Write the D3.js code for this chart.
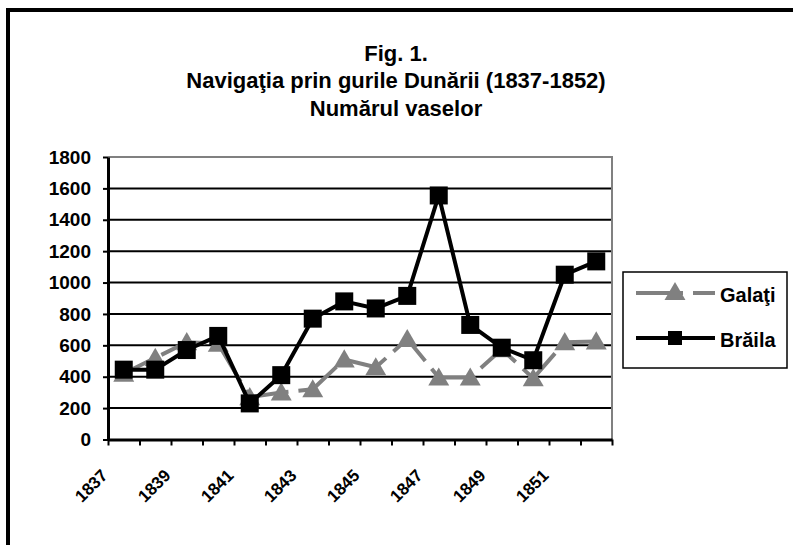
<!DOCTYPE html>
<html>
<head>
<meta charset="utf-8">
<script src="https://cdn.jsdelivr.net/npm/d3@7"></script>
<style>
  body { margin: 0; background: #fff; }
  svg text { font-family: "Liberation Sans", Arial, sans-serif; font-weight: bold; fill: #000; }
</style>
</head>
<body>
<div id="chart"></div>
<script>
// categories and values
const years = ["1837", "1838", "1839", "1840", "1841", "1842", "1843", "1844",
  "1845", "1846", "1847", "1848", "1849", "1850", "1851", "1852"];
const labelYears = ["1837", "1839", "1841", "1843", "1845", "1847", "1849", "1851"];
const galati = [420, 520, 620, 610, 270, 300, 320, 510, 460, 640, 395, 395, 575, 390, 620, 625];
const braila = [445, 445, 570, 660, 230, 410, 770, 880, 835, 915, 1555, 730, 585, 505, 1050, 1135];
const yTicks = [0, 200, 400, 600, 800, 1000, 1200, 1400, 1600, 1800];
const titleLines = ["Fig. 1.", "Navigaţia prin gurile Dunării (1837-1852)", "Numărul vaselor"];
const seriesNames = ["Galaţi", "Brăila"];

const width = 793, height = 545,
  plot = { left: 108, right: 612, top: 157, bottom: 439.5 },
  grey = "#808080";

const svg = d3.select("#chart").append("svg")
  .attr("width", width)
  .attr("height", height);

// outer frame (runs off the right and bottom edge)
svg.append("rect")
  .attr("x", 8).attr("y", 10)
  .attr("width", 900).attr("height", 700)
  .attr("fill", "none")
  .attr("stroke", "#000")
  .attr("stroke-width", 4);

// title
svg.append("g").selectAll("text")
  .data(titleLines)
  .join("text")
  .attr("x", 396)
  .attr("y", (d, i) => [61, 88, 116][i])
  .attr("text-anchor", "middle")
  .attr("font-size", 22)
  .text(d => d);

// scales
const x = d3.scaleBand().domain(years).range([plot.left, plot.right]);
const xEdge = d3.scaleLinear().domain([0, years.length]).range([plot.left, plot.right]);
const y = d3.scaleLinear().domain([0, 1800]).range([plot.bottom, plot.top]);
const cx = d => x(d) + x.bandwidth() / 2;

// gridlines
svg.append("g").selectAll("line")
  .data(yTicks.filter(d => d > 0 && d < 1800))
  .join("line")
  .attr("x1", plot.left).attr("x2", plot.right)
  .attr("y1", d => y(d)).attr("y2", d => y(d))
  .attr("stroke", "#000")
  .attr("stroke-width", 2);

// plot frame top + right in grey
svg.append("path")
  .attr("d", `M${plot.left},${y(1800)}H${plot.right}V${plot.bottom}`)
  .attr("fill", "none")
  .attr("stroke", grey)
  .attr("stroke-width", 2);

// y axis
const yAxis = svg.append("g")
  .attr("transform", `translate(${plot.left},0)`)
  .call(d3.axisLeft(y).tickValues(yTicks).tickFormat(d3.format("d"))
    .tickSize(5).tickPadding(12).tickSizeOuter(0));
yAxis.select(".domain").attr("stroke", "#000").attr("stroke-width", 3);
yAxis.selectAll(".tick line").attr("stroke", "#000").attr("stroke-width", 2);
yAxis.selectAll(".tick text").attr("font-size", 19).attr("font-family", null);

// x axis: ticks between categories
const xAxis = svg.append("g")
  .attr("transform", `translate(0,${plot.bottom})`)
  .call(d3.axisBottom(xEdge).tickValues(d3.range(years.length + 1)).tickSize(6).tickFormat("").tickSizeOuter(0));
xAxis.select(".domain").attr("stroke", "#000").attr("stroke-width", 3);
xAxis.selectAll(".tick line").attr("stroke", "#000").attr("stroke-width", 2);

// x labels, every second year, rotated
const xLabels = svg.append("g")
  .attr("transform", `translate(0,${plot.bottom})`)
  .call(d3.axisBottom(x).tickValues(labelYears).tickSize(0));
xLabels.select(".domain").remove();
xLabels.selectAll(".tick text")
  .attr("font-size", 17)
  .attr("font-family", null)
  .attr("x", 0).attr("y", 0).attr("dy", 0)
  .attr("text-anchor", "end")
  .attr("transform", "translate(-15,37) rotate(-45)");

// lines
const line = d3.line().x((d, i) => cx(years[i])).y(d => y(d));

svg.append("path")
  .datum(galati)
  .attr("d", line)
  .attr("fill", "none")
  .attr("stroke", grey)
  .attr("stroke-width", 4)
  .attr("stroke-dasharray", "47,10")
  .attr("stroke-dashoffset", 15);

const tri = d3.symbol().type(d3.symbolTriangle).size(190);
svg.append("g").selectAll("path")
  .data(galati)
  .join("path")
  .attr("d", tri)
  .attr("transform", (d, i) => `translate(${cx(years[i])},${y(d) + 2})`)
  .attr("fill", grey);

svg.append("path")
  .datum(braila)
  .attr("d", line)
  .attr("fill", "none")
  .attr("stroke", "#000")
  .attr("stroke-width", 4)
  .attr("stroke-linejoin", "round");

svg.append("g").selectAll("rect")
  .data(braila)
  .join("rect")
  .attr("x", (d, i) => cx(years[i]) - 9)
  .attr("y", d => y(d) - 9)
  .attr("width", 18).attr("height", 18)
  .attr("fill", "#000");

// legend
const legend = svg.append("g");
legend.append("rect")
  .attr("x", 623).attr("y", 272)
  .attr("width", 164).attr("height", 96)
  .attr("fill", "#fff")
  .attr("stroke", "#000")
  .attr("stroke-width", 1.5);

const rowY = [293, 338];
legend.append("line")
  .attr("x1", 636).attr("x2", 715)
  .attr("y1", rowY[0]).attr("y2", rowY[0])
  .attr("stroke", grey).attr("stroke-width", 4)
  .attr("stroke-dasharray", "47,10");
legend.append("path")
  .attr("d", tri)
  .attr("transform", `translate(675,${rowY[0] + 1})`)
  .attr("fill", grey);
legend.append("line")
  .attr("x1", 636).attr("x2", 715)
  .attr("y1", rowY[1]).attr("y2", rowY[1])
  .attr("stroke", "#000").attr("stroke-width", 4);
legend.append("rect")
  .attr("x", 668).attr("y", rowY[1] - 7)
  .attr("width", 14).attr("height", 14)
  .attr("fill", "#000");
legend.selectAll("text.lg")
  .data(seriesNames)
  .join("text")
  .attr("class", "lg")
  .attr("x", 720)
  .attr("y", (d, i) => rowY[i] + 9)
  .attr("font-size", 20)
  .text(d => d);
</script>
</body>
</html>
